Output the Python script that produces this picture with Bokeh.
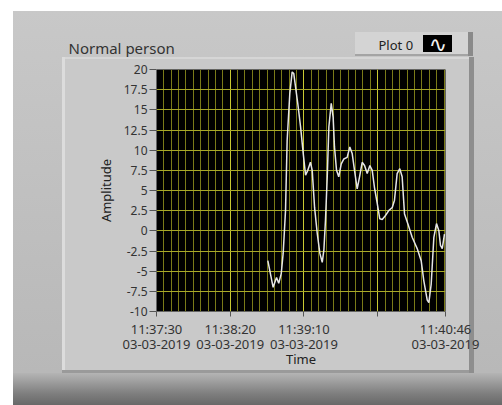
from bokeh.plotting import figure
from bokeh.models import FixedTicker, Label, Range1d, InlineStyleSheet
from bokeh.layouts import column
from bokeh.embed import file_html
from bokeh.resources import INLINE

# ---- data (seconds after 11:37:30, 03-03-2019) ----
time_s = [75.5, 79.1, 81.4, 82.9, 84.6, 85.9, 87.5, 88.6, 90.4, 92.0, 93.1, 95.8,
          97.7, 99.5, 101.1, 102.6, 104.4, 105.6, 107.2, 109.0, 110.8, 112.4, 113.5,
          114.6, 115.8, 116.9, 118.5, 119.8, 120.7, 122.1, 123.6, 125.3, 127.0, 129.3,
          131.1, 132.7, 134.3, 136.1, 137.7, 139.5, 141.1, 142.9, 144.7, 146.3, 147.8,
          149.7, 151.4, 153.1, 155.3, 157.5, 159.9, 161.4, 163.2, 165.0, 166.6, 168.2,
          170.4, 173.4, 176.8, 179.5, 181.3, 183.6, 184.7, 186.3, 188.1, 189.9, 191.5,
          192.6, 193.8, 195.3]
amplitude = [-3.7, -7.0, -5.8, -6.5, -5.3, -2.8, 2.5, 11.2, 17.0, 19.7, 19.5, 15.8,
             12.9, 9.6, 6.9, 7.5, 8.5, 7.5, 2.9, -0.3, -2.8, -3.9, -2.4,
             1.3, 6.7, 12.9, 15.8, 14.1, 10.4, 7.5, 6.7, 8.3, 8.9, 9.1,
             10.4, 9.6, 7.5, 5.2, 6.7, 8.5, 8.1, 7.1, 8.1, 7.5, 5.4,
             3.4, 1.5, 1.4, 1.9, 2.5, 2.9, 3.8, 7.1, 7.7, 6.7, 2.1,
             0.9, -0.8, -2.2, -3.7, -6.2, -8.6, -8.9, -6.6, -0.8, 0.9, 0.0,
             -1.8, -2.2, -0.4]

x_tick_pos = [0, 50, 100, 150, 196]
x_tick_labels = ["11:37:30\n03-03-2019", "11:38:20\n03-03-2019", "11:39:10\n03-03-2019",
                 "", "11:40:46\n03-03-2019"]
x_minor_pos = list(range(0, 196, 5))
y_tick_pos = [-10, -7.5, -5, -2.5, 0, 2.5, 5, 7.5, 10, 12.5, 15, 17.5, 20]
y_tick_labels = ["-10", "-7.5", "-5", "-2.5", "0", "2.5", "5", "7.5", "10", "12.5",
                 "15", "17.5", "20"]

title_text = "Normal person"
legend_text = "Plot 0"

W, H = 502, 405
HEAD_H = 57
FONT = "Noto Sans"

# ---------------- header (title + legend texts) ----------------
head = figure(width=W, height=HEAD_H, x_range=Range1d(0, W), y_range=Range1d(HEAD_H, 0),
              x_axis_type=None, y_axis_type=None, output_backend="svg",
              toolbar_location=None, min_border=0, min_border_left=0,
              min_border_right=0, min_border_top=0, min_border_bottom=0,
              background_fill_color=None, border_fill_color=None,
              outline_line_color=None)
head.xgrid.visible = False
head.ygrid.visible = False
head.add_layout(Label(x=68, y=47, text=title_text, text_font=FONT, text_font_size="15px",
                      text_color="#333333", text_baseline="middle"))
head.add_layout(Label(x=378, y=44, text=legend_text, text_font=FONT,
                      text_font_size="13px", text_color="#222222",
                      text_baseline="middle"))
head.add_layout(Label(x=437.5, y=44, text="∿", text_font="DejaVu Sans",
                      text_font_size="22px", text_color="#f0f0f0",
                      text_baseline="middle", text_align="center"))

# ---------------- main chart ----------------
MAIN_W = W
MAIN_H = H - HEAD_H
p = figure(width=MAIN_W, height=MAIN_H, x_range=Range1d(0, 196), y_range=Range1d(-10, 20),
           output_backend="svg", toolbar_location=None,
           min_border_left=156, min_border_right=MAIN_W - 445,
           min_border_top=69 - HEAD_H, min_border_bottom=H - 311,
           background_fill_color="black", border_fill_color=None,
           outline_line_color=None)

# keep the two canvases independent (no frame alignment inside the column)
for fig in (head, p):
    try:
        fig.frame_align = False
    except AttributeError:
        pass

p.line(time_s, amplitude, line_color="#e6e6e6", line_width=1.5)

xt = FixedTicker(ticks=x_tick_pos, minor_ticks=x_minor_pos)
yt = FixedTicker(ticks=y_tick_pos)
p.xaxis.ticker = xt
p.yaxis.ticker = yt
p.xgrid.ticker = xt
p.ygrid.ticker = yt
p.xaxis.major_label_overrides = dict(zip(x_tick_pos, x_tick_labels))
p.yaxis.major_label_overrides = dict(zip(y_tick_pos, y_tick_labels))

p.xgrid.grid_line_color = "#c8c832"
p.xgrid.minor_grid_line_color = "#7a7a18"
p.ygrid.grid_line_color = "#a8a828"

for ax in (p.xaxis[0], p.yaxis[0]):
    ax.axis_line_color = None
    ax.minor_tick_line_color = None
    ax.major_tick_in = 0
    ax.major_tick_line_color = "#555555"
    ax.major_label_text_font = FONT
    ax.major_label_text_color = "#333333"
    ax.axis_label_text_font = FONT
    ax.axis_label_text_font_style = "normal"
    ax.axis_label_text_font_size = "13px"
    ax.axis_label_text_color = "#222222"

p.xaxis.axis_label = "Time"
p.xaxis.major_tick_out = 5
p.xaxis.major_label_standoff = 3
p.xaxis.major_label_text_font_size = "13px"
p.xaxis.major_label_text_line_height = 0.85
p.xaxis.axis_label_standoff = -6

p.yaxis.axis_label = "Amplitude"
p.yaxis.major_tick_out = 7
p.yaxis.major_label_standoff = 2
p.yaxis.major_label_text_font_size = "12px"
p.yaxis.axis_label_standoff = 6

# ---------------- panel background (CSS, page coordinates) ----------------
def solid(c):
    return "linear-gradient(%s, %s)" % (c, c)

layers = [
    (solid("#000000"), 423, 35, 29, 17),                       # legend swatch
    (solid("#8a8a8a"), 468, 32, 5, 24),                        # legend shadow
    (solid("#a4a4a4"), 355, 54, 118, 2),                       # legend bottom edge
    (solid("#d4d4d4"), 355, 32, 118, 24),                      # legend box
    (solid("#8e8e8e"), 469, 57, 5, 316),                       # panel right shadow
    (solid("#9a9a9a"), 62, 370, 412, 3),                       # panel bottom edge
    (solid("#dcdcdc"), 62, 57, 3, 316),                        # panel left highlight
    (solid("#d6d6d6"), 62, 57, 412, 2),                        # panel top highlight
    (solid("#c9c9c9"), 62, 57, 412, 316),                      # panel
    ("linear-gradient(to bottom, #b4b4b4, #a0a0a0 25%, #7e7e7e 65%, #686868)", 13, 373, 489, 32),
    ("linear-gradient(to bottom, #c8c8c8, #b8b8b8)", 13, 11, 489, 362),
]
bg = ", ".join("%s %dpx %dpx / %dpx %dpx no-repeat" % (img, x, y, w, h)
               for img, x, y, w, h in layers)
css = ":host { background: %s, #ffffff; }" % bg

layout = column(head, p, stylesheets=[InlineStyleSheet(css=css)])

open("out.html", "w").write(file_html(layout, INLINE))
